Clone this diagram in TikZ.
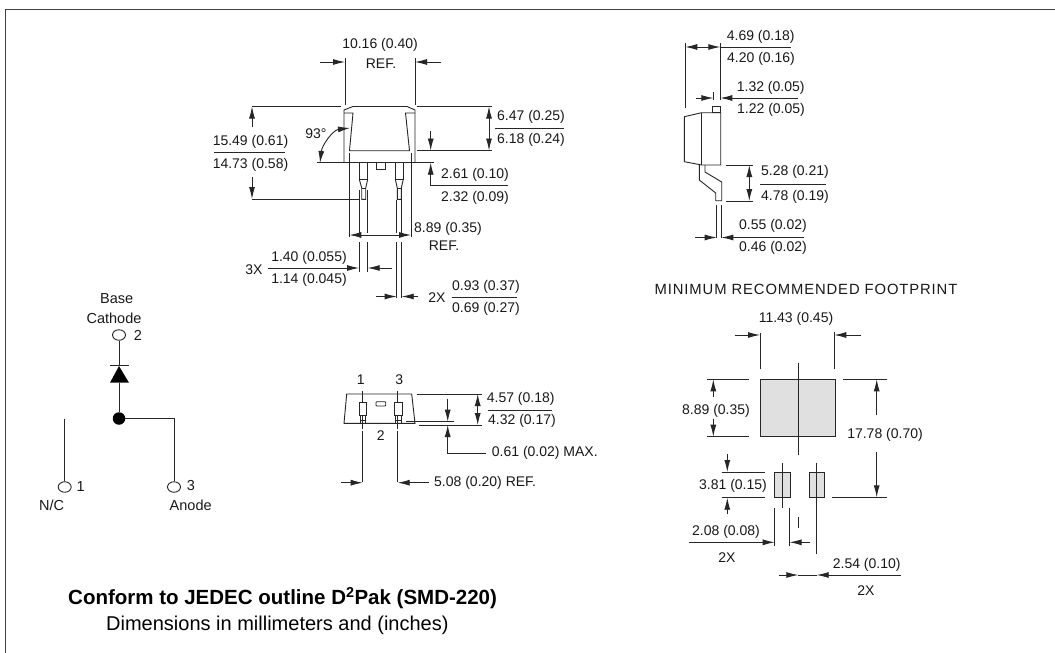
\documentclass[tikz,border=0pt]{standalone}
\usepackage{fontspec}
\setmainfont{Liberation Sans}
\usetikzlibrary{arrows.meta,shapes.geometric}
\newcounter{lblc}
\newcommand{\lbl}[3]{\stepcounter{lblc}\node[lab,name=t\thelblc] at (#1,#2) {#3};}
\newcommand{\slbl}[3]{\stepcounter{lblc}\node[lab,font=\fontsize{14.5}{16}\selectfont,name=t\thelblc] at (#1,#2) {#3};}
\tikzset{
  lab/.style={inner sep=0pt,font=\fontsize{14}{16}\selectfont,text=black!90},
  ln/.style={line width=0.9pt,draw=black!85},
  tipa/.tip={Latex[length=12pt,width=6pt]},
  dim/.style={ln,-tipa},
  dimb/.style={ln,tipa-tipa},
  pad/.style={ln,fill=black!12},
  pin/.style={draw=black!85,line width=0.9pt,ellipse,minimum width=13pt,minimum height=10.5pt,inner sep=0pt,fill=white},
  frame/.style={line width=1.5pt,draw=black!75}
}
\begin{document}
\begin{tikzpicture}[x=1pt,y=-1pt]
\useasboundingbox (0,0) rectangle (1055,653);
\fill[white] (0,0) rectangle (1055,653);
\draw[frame] (5.5,653) -- (5.5,9.5) -- (1055,9.5);

% ---------- front view
\draw[ln] (344,162.7) -- (344,110) -- (353,106.5) -- (407,106.5) -- (415,110) -- (415,162.7);
\draw[ln] (344,113) -- (353,113) -- (349.5,150.7) -- (409.5,150.7) -- (405.5,113) -- (415,113);
\draw[ln] (317,162.7) -- (434,162.7);
\draw[ln] (359.3,162.7) rectangle (367.7,179.3);
\draw[ln] (395.3,162.7) rectangle (403.3,179.3);
\draw[ln] (359.3,179.3) -- (361.7,188) -- (361.7,199.3) -- (365.7,199.3) -- (365.7,188) -- (367.7,179.3);
\draw[ln] (395.3,179.3) -- (397.3,188) -- (397.3,199.3) -- (401.3,199.3) -- (401.3,188) -- (403.3,179.3);
\draw[ln] (361.7,188) -- (365.7,188) (397.3,188) -- (401.3,188);
\draw[ln] (376.3,162.7) rectangle (385.7,169.3);
% width dim
\draw[ln] (345,58) -- (345,105) (415,58) -- (415,105);
\draw[dim] (320,62) -- (345,62);
\draw[dim] (441,62) -- (415,62);
\lbl{380}{45}{10.16 (0.40)}
\lbl{381}{64}{REF.}
% height dim
\draw[ln] (252,106.5) -- (341,106.5) (417,106.5) -- (492,106.5) (417,150.5) -- (492,150.5);
\draw[dim] (252,127) -- (252,106.5);
\draw[dim] (252,177) -- (252,199);
\draw[ln] (252,199) -- (359,199);
\lbl{250.5}{142}{15.49 (0.61)}
\draw[ln] (214,152) -- (285,152);
\lbl{250.5}{165}{14.73 (0.58)}
% 93
\lbl{316}{134}{93°}
\draw[dimb] (320,163) .. controls (322,145) and (333,130) .. (350,128);
% 6.47
\draw[dimb] (489,106.5) -- (489,150.5);
\lbl{531}{117}{6.47 (0.25)}
\draw[ln] (495,128) -- (564,128);
\lbl{531}{140}{6.18 (0.24)}
% 2.61
\draw[dim] (430.7,131) -- (430.7,150.5);
\draw[ln,tipa-] (430.7,162.7) -- (430.7,185) -- (508,185);
\lbl{475}{175}{2.61 (0.10)}
\lbl{475}{198}{2.32 (0.09)}
% 8.89
\draw[ln] (349.3,153) -- (349.3,237) (411,153) -- (411,237);
\draw[dimb] (349.3,235) -- (411,235);
\lbl{448}{229}{8.89 (0.35)}
\lbl{444}{246}{REF.}
% 3X
\draw[ln] (359,190) -- (359,233) (359,242) -- (359,272);
\draw[ln] (367.7,190) -- (367.7,233) (367.7,242) -- (367.7,272);
\draw[dim] (268,268) -- (359,268);
\draw[dim] (392,268) -- (367.7,268);
\lbl{254}{270}{3X}
\lbl{309}{258}{1.40 (0.055)}
\lbl{309}{280}{1.14 (0.045)}
% 2X
\draw[ln] (396.7,200) -- (396.7,233) (396.7,242) -- (396.7,298);
\draw[ln] (401.7,200) -- (401.7,233) (401.7,242) -- (401.7,298);
\draw[dim] (376,296.5) -- (396.7,296.5);
\draw[dim] (418,296.5) -- (401.7,296.5);
\lbl{437}{298}{2X}
\lbl{486}{287}{0.93 (0.37)}
\draw[ln] (452,297) -- (517,297);
\lbl{486}{309}{0.69 (0.27)}

% ---------- side view
\draw[ln] (701.7,112.7) -- (684.3,116.7) -- (684.3,161.7) -- (701.7,165) -- (720.7,165) -- (720.7,112.7) -- cycle;
\draw[ln] (701.7,112.7) -- (701.7,165);
\draw[ln] (712.7,106.7) rectangle (720.7,112.7);
\draw[ln] (699.3,165) -- (699.3,180) -- (715.7,193) -- (715.7,200.7) -- (721.7,200.7) -- (721.7,182) -- (705,172) -- (705,165);
\draw[ln] (685.3,43) -- (685.3,108) (720.3,43) -- (720.3,100);
\draw[dimb] (685.3,47) -- (720.3,47);
\draw[ln] (720.3,47) -- (790.7,47);
\lbl{760.7}{37}{4.69 (0.18)}
\lbl{761}{59}{4.20 (0.16)}
\draw[ln] (713.3,92) -- (713.3,100);
\draw[dim] (695.7,98) -- (713.3,98);
\draw[dim] (798,98) -- (720.3,98);
\lbl{770.7}{88}{1.32 (0.05)}
\lbl{771}{110}{1.22 (0.05)}
\draw[ln] (725.7,165) -- (753.3,165) (726,201) -- (753.3,201);
\draw[dimb] (749.3,165) -- (749.3,201);
\lbl{795}{172}{5.28 (0.21)}
\draw[ln] (760,184.5) -- (825.7,184.5);
\lbl{795}{197}{4.78 (0.19)}
\draw[ln] (716.7,205) -- (716.7,238) (721.3,205) -- (721.3,238);
\draw[dim] (695,237.5) -- (716.7,237.5);
\draw[dim] (804,237.5) -- (721.3,237.5);
\lbl{773}{226}{0.55 (0.02)}
\lbl{773}{248}{0.46 (0.02)}

% ---------- footprint
\node[lab,font=\fontsize{14.8}{16}\selectfont\addfontfeatures{LetterSpace=6},name=tfoot] at (806,289) {MINIMUM RECOMMENDED FOOTPRINT};
\draw[pad] (760,379.3) rectangle (835.7,436.7);
\draw[pad] (774.7,472) rectangle (790,497.7);
\draw[pad] (809.3,472) rectangle (824,497.7);
\draw[ln] (798.7,362.7) -- (798.7,455) (798.7,516.7) -- (798.7,528);
\draw[ln] (782.3,462.7) -- (782.3,508.3) (816.7,462.7) -- (816.7,554);
\draw[ln] (760,333) -- (760,369) (834.3,332) -- (834.3,369);
\draw[dim] (735,335) -- (760,335);
\draw[dim] (861,335) -- (834.3,335);
\lbl{796}{319}{11.43 (0.45)}
\draw[ln] (706.7,379.3) -- (749.3,379.3) (843.3,379.3) -- (886.7,379.3) (706.7,436.7) -- (749.3,436.7);
\draw[dim] (713.3,396.7) -- (713.3,379.3);
\draw[dim] (713.3,419) -- (713.3,436.7);
\lbl{716}{411}{8.89 (0.35)}
\draw[dim] (876.7,415) -- (876.7,379.3);
\draw[dim] (876.7,452) -- (876.7,497.3);
\lbl{885}{435}{17.78 (0.70)}
\draw[ln] (721.7,472) -- (765,472) (721.7,497.7) -- (765,497.7) (832.3,497.7) -- (886.7,497.7);
\draw[dim] (727.3,454) -- (727.3,472);
\draw[dim] (727.3,514) -- (727.3,497.7);
\lbl{733}{486}{3.81 (0.15)}
\draw[ln] (774.7,508) -- (774.7,546) (789.5,508) -- (789.5,546);
\draw[dim] (689,542.3) -- (774.7,542.3);
\draw[dim] (810,542.3) -- (789.5,542.3);
\lbl{726}{532}{2.08 (0.08)}
\lbl{727}{558}{2X}
\draw[dim] (779,575) -- (798.3,575);
\draw[dim] (900.7,575) -- (816.7,575);
\draw[ln] (798.3,575) -- (816.7,575);
\lbl{866.7}{565}{2.54 (0.10)}
\lbl{866}{591}{2X}

% ---------- bottom view
\draw[ln] (346.7,394) -- (411.7,394) -- (415,423.3) -- (344,423.3) -- cycle;
\draw[ln] (359,402.7) rectangle (366.7,415.7);
\draw[ln] (360,415.7) rectangle (365.7,423.3);
\draw[ln] (360,420) -- (365.7,420);
\draw[ln] (394.3,402.7) rectangle (402.7,415.7);
\draw[ln] (395.3,415.7) rectangle (401.7,423.3);
\draw[ln] (395.3,420) -- (401.7,420);
\draw[ln,rounded corners=0.8pt] (376,401.7) rectangle (385.7,406);
\draw[ln] (362.7,390.7) -- (362.7,402.7) (362.7,415.7) -- (362.7,429) (362.7,431) -- (362.7,481.7);
\draw[ln] (397.7,390.7) -- (397.7,402.7) (397.7,415.7) -- (397.7,429) (397.7,431) -- (397.7,481.7);
\draw[dim] (341,482.7) -- (362.7,482.7);
\draw[dim] (429,482.7) -- (397.7,482.7);
\node[lab,anchor=west,name=tref] at (434,483) {5.08 (0.20) REF.};
\lbl{360.7}{380}{1}
\lbl{399.3}{380}{3}
\lbl{380.7}{436}{2}
\draw[ln] (417.3,394) -- (481.7,394) (419.3,425) -- (481.7,425);
\draw[dimb] (477.7,394) -- (477.7,425);
\lbl{520.7}{399}{4.57 (0.18)}
\draw[ln] (488,410) -- (552,410);
\lbl{522}{421}{4.32 (0.17)}
\draw[ln] (406,421.7) -- (454,421.7);
\draw[dim] (447.7,399) -- (447.7,421.7);
\draw[ln,tipa-] (447.7,425) -- (447.7,453.3) -- (486,453.3);
\node[lab,anchor=west,name=tmax] at (491.7,453) {0.61 (0.02) MAX.};

% ---------- schematic
\node[pin] (p2) at (119,335) {};
\node[pin] (p1) at (64.7,487) {};
\node[pin] (p3) at (174,487) {};
\coordinate (nc) at (64.7,419);
\node[circle,fill=black,minimum size=12.5pt,inner sep=0pt] (j) at (119,418.5) {};
\coordinate (dt) at (119,366);
\coordinate (db) at (119,382.7);
\draw[line width=0.9pt,draw=black!85] (p2) -- (dt);
\draw[line width=0.9pt,draw=black!85] (db) -- (j);
\draw[line width=0.9pt,draw=black!85] (110,365.7) -- (129,365.7);
\fill[black] (dt) -- (129,382.7) -- (110,382.7) -- cycle;
\draw[ln] (j) -| (p3);
\draw[ln] (nc) -- (p1);
\slbl{116.7}{299}{Base}
\slbl{114}{318}{Cathode}
\slbl{138}{335}{2}
\slbl{191}{486}{3}
\slbl{190.7}{505}{Anode}
\slbl{80.7}{487}{1}
\slbl{51.7}{505}{N/C}

% ---------- captions
\node[anchor=west,inner sep=0pt,font=\fontsize{20.5}{24}\selectfont\bfseries,name=capa] at (68,598) {Conform to JEDEC outline D\textsuperscript{2}Pak (SMD-220)};
\node[anchor=west,inner sep=0pt,font=\fontsize{20}{24}\selectfont,name=capb] at (106,625) {Dimensions in millimeters and (inches)};
\end{tikzpicture}
\end{document}
